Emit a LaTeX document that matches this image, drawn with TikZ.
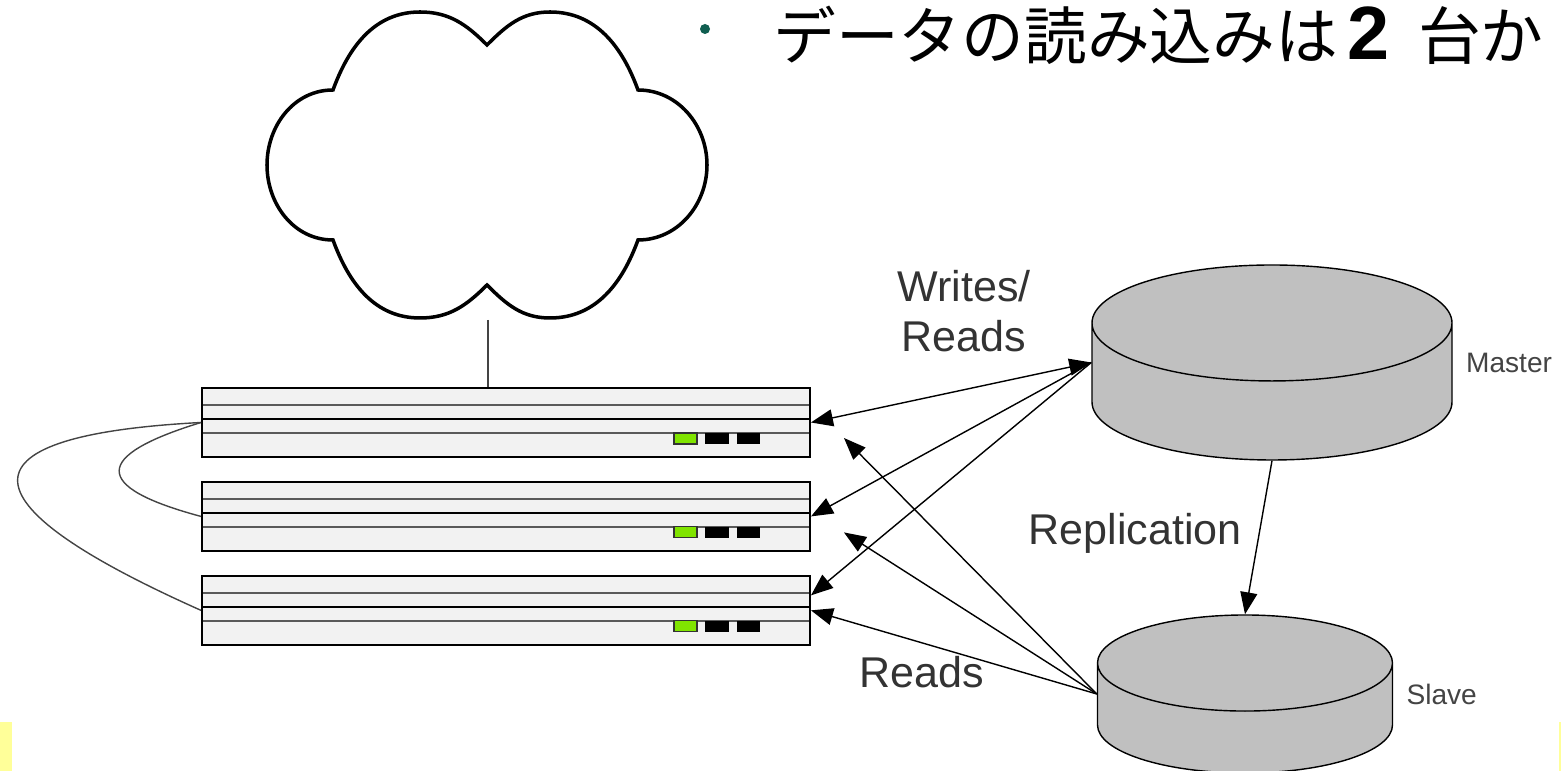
\documentclass[tikz,border=0pt]{standalone}
\usepackage{fontspec}
\setmainfont{Liberation Sans}
\newfontfamily\jpfont{Noto Sans CJK JP}
\usepackage{tikz}
\usetikzlibrary{shapes,arrows.meta}
\usetikzlibrary{positioning}
\usetikzlibrary{calc}

\definecolor{rackgray}{RGB}{242,242,242}
\definecolor{rackline}{RGB}{90,90,90}
\definecolor{ledgreen}{RGB}{128,228,0}
\definecolor{diskgray}{RGB}{192,192,192}
\definecolor{cablegray}{RGB}{68,68,68}
\definecolor{linkgray}{RGB}{51,51,51}
\definecolor{labelgray}{RGB}{68,68,68}
\definecolor{bulletteal}{RGB}{16,94,80}
\definecolor{notegold}{RGB}{255,255,153}

\tikzset{
	server/.style={draw, rectangle, line width=1.1pt, fill=rackgray,
		minimum width=12.16cm, minimum height=1.38cm, inner sep=0pt,
		path picture={
			\foreach \pos/\col in {0.25/rackline,0.45/black,0.65/rackline}
				\draw[\col, line width=1.1pt]
					($(path picture bounding box.north west)!\pos!(path picture bounding box.south west)$) --
					($(path picture bounding box.north east)!\pos!(path picture bounding box.south east)$);
			\filldraw[fill=ledgreen, draw=black!80, line width=0.6pt]
				([xshift=-2.72cm,yshift=-0.9cm]path picture bounding box.north east) rectangle ++(0.46cm,-0.22cm);
			\fill[black] ([xshift=-2.1cm,yshift=-0.9cm]path picture bounding box.north east) rectangle ++(0.48cm,-0.22cm);
			\fill[black] ([xshift=-1.46cm,yshift=-0.9cm]path picture bounding box.north east) rectangle ++(0.46cm,-0.22cm);
		}},
	disk/.style={draw, cylinder, shape border rotate=90, fill=diskgray, line width=0.8pt, anchor=shape center},
	dblabel/.style={font=\fontsize{16}{18}\selectfont, text=labelgray, inner sep=0pt},
	linklabel/.style={font=\fontsize{24.5}{28.4}\selectfont, text=linkgray, inner sep=0pt, align=center},
	link/.style={line width=0.8pt},
	cable/.style={draw=cablegray, line width=0.8pt},
}

\begin{document}
\begin{tikzpicture}[>={Triangle[length=4.4mm,width=3.4mm]}]

	\useasboundingbox (0,0) rectangle (31.22,15.42);
	\fill[notegold] (0,0) rectangle (0.24,0.98);
	\fill[notegold] (31.18,0) rectangle (31.22,0.98);

	% Title
	% ----------
	\fill[bulletteal] (14.10,14.84) circle (0.1);
	\node[anchor=base west, inner sep=0pt] (title) at (15.46,14.22)
		{\jpfont\fontsize{35.7}{40}\selectfont データの読み込みは\hspace{0.2cm}{\rmfamily\bfseries\fontsize{43}{46}\selectfont 2}\hspace{0.56cm}台か};

	% Cloud
	% ----------
	\draw[line width=2pt] (9.74,14.52) to[out=135,in=0] (8.40,15.18) to[out=180,in=70] (6.66,13.62)
		to[out=180,in=90] (5.34,12.12) to[out=-90,in=180] (6.66,10.62)
		to[out=-70,in=180] (8.40,9.06) to[out=0,in=-135] (9.74,9.72)
		to[out=-45,in=180] (11.00,9.06) to[out=0,in=-110] (12.76,10.62)
		to[out=0,in=-90] (14.14,12.12) to[out=90,in=0] (12.76,13.62)
		to[out=110,in=0] (11.00,15.18) to[out=180,in=45] (9.74,14.52) -- cycle;
	\coordinate (cloudfoot) at (9.76,9.02);

	% Web servers
	% ----------
	\node[server] (server1) at (10.12,6.97) {};
	\node[server, below=0.46cm of server1] (server2) {};
	\node[server, below=0.46cm of server2] (server3) {};

	\draw[cable] (cloudfoot) -- (cloudfoot |- server1.north);
	\draw[cable] (server1.west) to[out=183,in=156,out looseness=3.3,in looseness=3.7] (server3.west);
	\draw[cable] (server1.west) to[out=197,in=165,looseness=3.1] (server2.west);

	% Databases
	% ----------
	\node[disk, aspect=9.9, minimum width=7.2cm, minimum height=3.9cm] (master) at (25.44,8.17) {};
	\node[disk, aspect=8.2, minimum width=5.9cm, minimum height=3.16cm] (slave) at (24.90,1.54) {};
	\coordinate (masterPort) at (master.shape center -| master.west);
	\coordinate (slavePort) at (slave.shape center -| slave.west);
	\coordinate (masterSide) at (master.shape center -| master.east);
	\coordinate (slaveSide) at (slave.shape center -| slave.east);
	\node[dblabel, right=2.6mm of masterSide] (masterLabel) {Master};
	\node[dblabel, right=2.6mm of slaveSide] (slaveLabel) {Slave};

	% Writes/Reads and Reads
	\draw[link,<->] (server1.east) -- (masterPort);
	\draw[link,->] (masterPort) -- (server2.east);
	\draw[link,->] (masterPort) -- ([yshift=3mm]server3.east);

	\coordinate (readsA) at ([xshift=6.6mm,yshift=-3.1mm]server1.east);
	\coordinate (readsB) at ([xshift=6.6mm,yshift=-3.2mm]server2.east);
	\draw[link,->] (slavePort) -- (readsA);
	\draw[link,->] (slavePort) -- (readsB);
	\draw[link,->] (slavePort) -- (server3.east);

	\draw[link,->] (master.south) -- (slave.north);

	\node[linklabel] (rwLabel) at (19.28,9.20) {Writes/\\Reads};
	\node[linklabel, anchor=base] (replLabel) at (22.70,4.52) {Replication};
	\node[linklabel, anchor=base] (readsLabel) at (18.43,1.66) {Reads};

\end{tikzpicture}
\end{document}
